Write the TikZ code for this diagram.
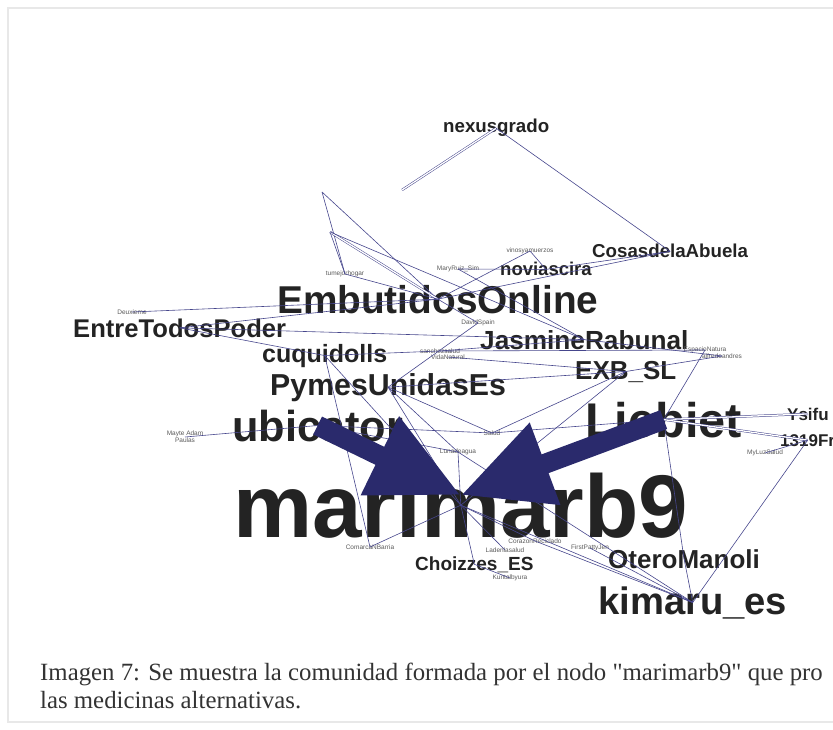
\documentclass[tikz,border=0pt]{standalone}
\usepackage{fontspec}
\setmainfont{Liberation Serif}
\setsansfont{Liberation Sans}
\usetikzlibrary{arrows.meta}

\definecolor{edgeblue}{RGB}{70,70,140}
\definecolor{arrowblue}{RGB}{42,42,108}
\definecolor{labelgray}{RGB}{35,35,35}

\begin{document}
\begin{tikzpicture}[x=1pt,y=-1pt,
  lab/.style={anchor=base west,inner sep=0pt,text=labelgray,font=\sffamily\bfseries\fontsize{#1}{#1}\selectfont},
  minilab/.style={inner sep=0pt,align=center,text=black!65,font=\sffamily\fontsize{6.5}{6}\selectfont},
  link/.style={draw=edgeblue,line width=0.6pt},
  dlink/.style={draw=edgeblue,double=white,double distance=1.3pt,line width=0.5pt},
  bigarrow/.style={draw=arrowblue,line width=20pt,-{Triangle[length=90pt,width=82pt]}}]
  \useasboundingbox (0,0) rectangle (833,730);
  \clip (0,0) rectangle (833,730);
  \draw[gray!18,line width=1.5pt] (8,8) rectangle (850,722);

  % labels
  \node[lab=18.7] (nexus) at (443,133) {nexusgrado};
  \node[lab=18.7] (cosas) at (592,258) {CosasdelaAbuela};
  \node[lab=18.5] (novias) at (500,276) {noviascira};
  \node[lab=38.8] (embut) at (277,313) {EmbutidosOnline};
  \node[lab=25.6] (entre) at (73,337) {EntreTodosPoder};
  \node[lab=26.2] (jasmine) at (480,349) {JasmineRabunal};
  \node[lab=25] (cuqui) at (262,362) {cuquidolls};
  \node[lab=26] (exb) at (575,379) {EXB\_SL};
  \node[lab=30.3] (pymes) at (270,395) {PymesUnidasEs};
  \node[lab=43.3] (ubic) at (232,441) {ubicator};
  \node[lab=48.7] (liebiet) at (585,437) {Liebiet};
  \node[lab=17] (ysifu) at (787,420) {Ysifu};
  \node[lab=17] (fran) at (780,446) {1319Fr};
  \node[lab=89] (m9) at (233,537) {marimarb9};
  \node[lab=19] (choiz) at (415,570) {Choizzes\_ES};
  \node[lab=26] (otero) at (608,568) {OteroManoli};
  \node[lab=38.2] (kimaru) at (598,614) {kimaru\_es};

  \node[minilab] (vinos) at (530,251) {vinosyamuerzos};
  \node[minilab] (mary) at (458,269) {MaryRuiz\_Sim};
  \node[minilab] (tumej) at (345,274) {tumejorhogar};
  \node[minilab] (deux) at (132,312) {Deuxieme};
  \node[minilab] (david) at (478,323) {DavidSpain};
  \node[minilab] (clus) at (440,351) {sanchezsalud};
  \node[minilab] (clus2) at (448,357) {VidaNatural};
  \node[minilab] (esp) at (705,350) {EspacioNatura};
  \node[minilab] (alf) at (722,356) {alfredoandres};
  \node[minilab] (salud) at (492,433) {Salud};
  \node[minilab] (luna) at (458,452) {Lunadeagua};
  \node[minilab] (mayte) at (185,437) {Mayte Adam\\Paulas};
  \node[minilab] (mylu) at (765,453) {MyLuzSalud};
  \node[minilab] (comarca) at (370,547) {ComarcaNBarria};
  \node[minilab] (corazon) at (535,541) {CorazonReciclado};
  \node[minilab] (laden) at (505,550) {Ladenlasalud};
  \node[minilab] (firstp) at (590,548) {FirstPattyJen};
  \node[minilab] (kuntal) at (510,578) {Kuntalbyura};

  \coordinate (h1) at (402,190);
  \coordinate (tl) at (322,192);
  \coordinate (tl2) at (330,232);

  % thin links
  \draw[dlink] (nexus.center) -- (h1);
  \draw[link] (nexus.center) -- (cosas.center);
  \draw[link] (tl) -- (tumej.center);
  \draw[link] (tl) -- (embut.center);
  \draw[link] (tl2) -- (tumej.center);
  \draw[dlink] (tl2) -- (embut.center);
  \draw[link] (tl2) -- (jasmine.center);
  \draw[link] (tumej.center) -- (embut.center);
  \draw[link] (vinos.center) -- (novias.center);
  \draw[link] (vinos.center) -- (embut.center);
  \draw[link] (mary.center) -- (novias.center);
  \draw[link] (mary.center) -- (jasmine.center);
  \draw[link] (cosas.center) -- (embut.center);
  \draw[link] (cosas.center) -- (novias.center);
  \draw[link] (deux.center) -- (embut.center);
  \draw[link] (entre.center) -- (embut.center);
  \draw[link] (entre.center) -- (cuqui.center);
  \draw[link] (entre.center) -- (jasmine.center);
  \draw[link] (david.center) -- (embut.center);
  \draw[link] (david.center) -- (pymes.center);
  \draw[link] (cuqui.center) -- (clus.center);
  \draw[link] (clus.center) -- (jasmine.center);
  \draw[link] (clus2.center) -- (exb.center);
  \draw[link] (clus.center) -- (esp.center);
  \draw[link] (jasmine.center) -- (alf.center);
  \draw[link] (esp.center) -- (liebiet.center);
  \draw[link] (alf.center) -- (exb.center);
  \draw[link] (exb.center) -- (pymes.center);
  \draw[link] (exb.center) -- (salud.center);
  \draw[link] (exb.center) -- (m9.center);
  \draw[link] (pymes.center) -- (salud.center);
  \draw[link] (pymes.center) -- (m9.center);
  \draw[link] (pymes.center) -- (luna.center);
  \draw[link] (cuqui.center) -- (m9.center);
  \draw[link] (cuqui.center) -- (comarca.center);
  \draw[link] (ubic.center) -- (luna.center);
  \draw[link] (mayte.center) -- (ubic.center);
  \draw[link] (salud.center) -- (liebiet.center);
  \draw[link] (salud.center) -- (ubic.center);
  \draw[dlink] (liebiet.center) -- (ysifu.center);
  \draw[dlink] (liebiet.center) -- (fran.center);
  \draw[link] (mylu.center) -- (fran.center);
  \draw[link] (fran.center) -- (kimaru.center);
  \draw[link] (liebiet.center) -- (otero.center);
  \draw[link] (m9.center) -- (kimaru.center);
  \draw[link] (corazon.center) -- (kimaru.center);
  \draw[link] (firstp.center) -- (kimaru.center);
  \draw[link] (luna.center) -- (kimaru.center);
  \draw[link] (otero.center) -- (kimaru.center);
  \draw[link] (choiz.center) -- (m9.center);
  \draw[link] (kuntal.center) -- (choiz.center);
  \draw[link] (laden.center) -- (m9.center);
  \draw[link] (corazon.center) -- (m9.center);
  \draw[link] (comarca.center) -- (m9.center);
  \draw[link] (luna.center) -- (m9.center);

  % heavy links
  \draw[bigarrow] (ubic.center) -- ([yshift=10pt]m9.center);
  \draw[bigarrow] (liebiet.center) -- ([yshift=10pt]m9.center);

  % caption
  \node[anchor=base west,inner sep=0pt,text=black!80,font=\fontsize{24.8}{28}\selectfont] (cap1) at (40,680)
    {Imagen 7: Se muestra la comunidad formada por el nodo \textquotedbl marimarb9\textquotedbl{} que pro};
  \node[anchor=base west,inner sep=0pt,text=black!80,font=\fontsize{24.8}{28}\selectfont] (cap2) at (40,708)
    {las medicinas alternativas.};
\end{tikzpicture}
\end{document}
